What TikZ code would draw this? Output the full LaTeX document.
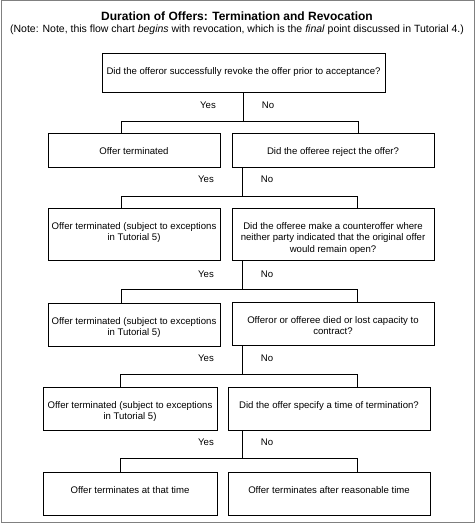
\documentclass[tikz,border=0pt]{standalone}
\usepackage{fontspec}
\setmainfont{Liberation Sans}
\begin{document}
\begin{tikzpicture}[x=1pt,y=-1pt,
  box/.style={draw=black, line width=0.8pt, rectangle, inner sep=0pt},
  txt/.style={inner sep=0pt, align=center, anchor=north, font=\fontsize{9.6}{11.2}\selectfont},
  yn/.style={inner sep=0pt, font=\fontsize{9.6}{11.2}\selectfont},
  conn/.style={draw=black, line width=0.8pt}]
\useasboundingbox (0,0) rectangle (475,524);
\draw[gray, line width=1pt] (1,1) rectangle (474,522);
\node[inner sep=0pt, font=\fontsize{12}{14}\selectfont\bfseries] (title) at (237,16) {Duration of Offers: Termination and Revocation};
\node[inner sep=0pt, font=\fontsize{10.5}{12.5}\selectfont] (sub) at (237,29.5) {(Note: Note, this flow chart \textit{begins} with revocation, which is the \textit{final} point discussed in Tutorial 4.)};
% boxes
\node[box, minimum width=283, minimum height=39] (b1) at (243.5,72.5) {};
\node[box, minimum width=172, minimum height=34] (b2l) at (134,150) {};
\node[box, minimum width=202, minimum height=34] (b2r) at (333,150) {};
\node[box, minimum width=172, minimum height=52] (b3l) at (134,234) {};
\node[box, minimum width=202, minimum height=52] (b3r) at (333,234) {};
\node[box, minimum width=172, minimum height=43] (b4l) at (134,324.5) {};
\node[box, minimum width=202, minimum height=43] (b4r) at (333,323.5) {};
\node[box, minimum width=174, minimum height=43] (b5l) at (130,408.5) {};
\node[box, minimum width=202, minimum height=43] (b5r) at (329,408.5) {};
\node[box, minimum width=174, minimum height=43] (b6l) at (130,493.5) {};
\node[box, minimum width=202, minimum height=43] (b6r) at (329,493.5) {};
% texts
\node[txt] (t1) at ([yshift=-15]b1.north) {Did the offeror successfully revoke the offer prior to acceptance?};
\node[txt] (t2l) at ([yshift=-15]b2l.north) {Offer terminated};
\node[txt] (t2r) at ([yshift=-15]b2r.north) {Did the offeree reject the offer?};
\node[txt] (t3l) at ([yshift=-15]b3l.north) {Offer terminated (subject to exceptions\\in Tutorial 5)};
\node[txt] (t3r) at ([yshift=-15]b3r.north) {Did the offeree make a counteroffer where\\neither party indicated that the original offer\\would remain open?};
\node[txt] (t4l) at ([yshift=-15]b4l.north) {Offer terminated (subject to exceptions\\in Tutorial 5)};
\node[txt] (t4r) at ([yshift=-15]b4r.north) {Offeror or offeree died or lost capacity to\\contract?};
\node[txt] (t5l) at ([yshift=-15]b5l.north) {Offer terminated (subject to exceptions\\in Tutorial 5)};
\node[txt] (t5r) at ([yshift=-15]b5r.north) {Did the offer specify a time of termination?};
\node[txt] (t6l) at ([yshift=-15]b6l.north) {Offer terminates at that time};
\node[txt] (t6r) at ([yshift=-15]b6r.north) {Offer terminates after reasonable time};
% junctions
\coordinate (j1) at (243.5,121); \coordinate (j1l) at (121,121); \coordinate (j1r) at (358,121);
\coordinate (j2) at (242,196); \coordinate (j2l) at (121,196); \coordinate (j2r) at (357.5,196);
\coordinate (j3) at (242,289); \coordinate (j3l) at (121,289); \coordinate (j3r) at (357.5,289);
\coordinate (j4) at (242,374); \coordinate (j4l) at (120.5,374); \coordinate (j4r) at (357,374);
\coordinate (j5) at (242,458); \coordinate (j5l) at (120.5,458); \coordinate (j5r) at (357,458);
% connectors
\draw[conn] (b1.south) -- (j1);
\draw[conn] (j1l |- b2l.north) -- (j1l) -- (j1r) -- (j1r |- b2r.north);
\draw[conn] (j2 |- b2r.south) -- (j2);
\draw[conn] (j2l |- b3l.north) -- (j2l) -- (j2r) -- (j2r |- b3r.north);
\draw[conn] (j3 |- b3r.south) -- (j3);
\draw[conn] (j3l |- b4l.north) -- (j3l) -- (j3r) -- (j3r |- b4r.north);
\draw[conn] (j4 |- b4r.south) -- (j4);
\draw[conn] (j4l |- b5l.north) -- (j4l) -- (j4r) -- (j4r |- b5r.north);
\draw[conn] (j5 |- b5r.south) -- (j5);
\draw[conn] (j5l |- b6l.north) -- (j5l) -- (j5r) -- (j5r |- b6r.north);
% yes/no
\node[yn] (y1) at (208,105) {Yes}; \node[yn] (n1) at (268,105) {No};
\node[yn] (y2) at (206,179) {Yes}; \node[yn] (n2) at (267,179) {No};
\node[yn] (y3) at (206,274) {Yes}; \node[yn] (n3) at (267,274) {No};
\node[yn] (y4) at (206,358) {Yes}; \node[yn] (n4) at (267,358) {No};
\node[yn] (y5) at (206,442) {Yes}; \node[yn] (n5) at (267,442) {No};
\end{tikzpicture}
\end{document}
